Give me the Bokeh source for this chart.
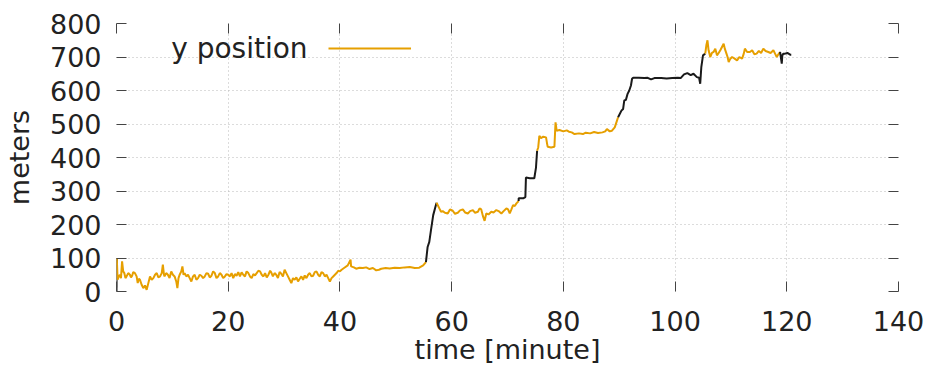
from bokeh.plotting import figure
from bokeh.models import (Range1d, LinearAxis, FixedTicker, Label, Legend, LegendItem,
                          CustomJSTickFormatter)
from bokeh.embed import file_html
from bokeh.resources import INLINE

# ---- data ----
x_ticks = [0, 20, 40, 60, 80, 100, 120, 140]
y_ticks = [0, 100, 200, 300, 400, 500, 600, 700, 800]

# run A: black, run B: orange (0 - 55 min)
time_a = [0.0, 0.05]
pos_a = [0, 100]

time_b = [0.05, 0.2, 0.4, 0.6, 0.8, 1.0, 1.2, 1.4, 1.6, 1.8, 2.1, 2.4, 2.6, 2.8, 3.0, 3.3, 3.6, 3.8, 4.0, 4.2,
          4.5, 4.8, 5.1, 5.4, 5.7, 6.0, 6.3, 6.6, 6.9, 7.2, 7.5, 7.8, 8.1, 8.3, 8.5, 8.6, 8.9, 9.2, 9.5, 9.8,
          10.1, 10.4, 10.7, 10.9, 11.1, 11.3, 11.6, 11.8, 12.0, 12.2, 12.5, 12.8, 13.1, 13.4, 13.7, 14.0, 14.3,
          14.6, 14.9, 15.2, 15.5, 15.8, 16.1, 16.4, 16.7, 17.0, 17.3, 17.6, 17.9, 18.2, 18.5, 18.8, 19.1, 19.4,
          19.7, 20.0, 20.3, 20.6, 20.9, 21.2, 21.5, 21.8, 22.1, 22.4, 22.7, 23.0, 23.3, 23.6, 23.9, 24.2, 24.5,
          24.8, 25.1, 25.4, 25.7, 26.0, 26.3, 26.6, 26.9, 27.2, 27.5, 27.7, 28.0, 28.3, 28.6, 28.9, 29.2, 29.5,
          29.8, 30.1, 30.4, 30.7, 31.0, 31.3, 31.6, 31.9, 32.2, 32.5, 32.8, 33.1, 33.4, 33.7, 34.0, 34.3, 34.6,
          34.9, 35.2, 35.5, 35.8, 36.1, 36.4, 36.7, 37.0, 37.3, 37.6, 37.9, 38.2, 38.5, 38.8, 39.1, 39.4, 39.7,
          40.0, 40.3, 40.8, 41.4, 41.9, 42.0, 42.5, 42.9, 43.5, 44.1, 44.7, 45.3, 45.9, 46.5, 47.0, 47.4, 48.2,
          48.9, 49.8, 50.7, 51.6, 52.5, 53.4, 54.2, 54.9, 55.4]
pos_b = [100, 35, 45, 50, 40, 90, 60, 55, 40, 45, 55, 50, 42, 47, 58, 55, 45, 25, 38, 35,
         20, 10, 18, 5, 25, 45, 35, 40, 50, 55, 42, 45, 55, 80, 50, 45, 55, 50, 40, 60,
         50, 45, 30, 10, 40, 50, 60, 75, 50, 55, 45, 50, 40, 30, 45, 50, 35,
         40, 50, 47, 40, 45, 55, 53, 42, 47, 60, 55, 40, 45, 55, 50, 40, 45,
         52, 50, 45, 55, 40, 52, 47, 58, 45, 57, 50, 45, 60, 55, 45, 40, 52,
         48, 55, 62, 60, 50, 45, 55, 42, 50, 62, 57, 45, 55, 50, 40, 58, 53,
         45, 65, 55, 45, 35, 25, 40, 35, 42, 30, 38, 45, 35, 48, 40, 50, 55,
         45, 47, 58, 60, 50, 45, 58, 55, 45, 50, 40, 30, 40, 45, 50, 55, 62,
         60, 65, 71, 78, 95, 75, 72, 68, 71, 70, 72, 67, 70, 63, 65, 68, 70,
         69, 71, 70, 72, 73, 70, 71, 78, 88]

# run C: black climb to ~260 m
time_c = [55.4, 55.7, 56.0, 56.3, 56.7, 57.1, 57.3]
pos_c = [88, 133, 148, 183, 228, 253, 265]

# run D: orange plateau ~240 m
time_d = [57.3, 57.8, 58.1, 58.4, 58.8, 59.3, 59.7, 60.2, 60.6, 61.1, 61.5, 62.0, 62.4, 62.9, 63.3, 63.8,
          64.2, 64.7, 65.0, 65.3, 65.6, 65.9, 66.2, 66.6, 67.1, 67.5, 68.0, 68.4, 68.9, 69.3, 69.8, 70.1,
          70.4, 70.7, 71.0, 71.3, 71.6, 72.0]
pos_d = [265, 248, 238, 240, 235, 233, 245, 241, 232, 235, 242, 245, 236, 233, 240, 243,
         235, 238, 248, 245, 225, 211, 233, 230, 238, 236, 243, 240, 233, 240, 248, 245,
         233, 245, 258, 255, 263, 270]

# run E: black steps 280 -> 340 -> 420 m
time_e = [72.0, 72.0, 72.8, 73.2, 73.3, 74.0, 74.8, 75.1, 75.3]
pos_e = [270, 278, 278, 282, 340, 338, 338, 370, 420]

# run F: orange plateau ~475 m
time_f = [75.3, 75.5, 75.7, 76.0, 76.4, 76.9, 77.1, 77.2, 77.8, 78.4, 78.6, 78.8, 79.3, 80.0, 80.6, 81.0,
          81.5, 82.0, 82.8, 83.5, 84.0, 84.8, 85.5, 86.2, 87.0, 87.5, 87.8, 88.3, 88.7, 89.2, 89.6, 89.8]
pos_f = [420, 430, 465, 458, 462, 460, 440, 432, 430, 432, 505, 480, 482, 478, 481, 477,
         475, 470, 472, 470, 474, 472, 476, 473, 475, 478, 485, 478, 480, 490, 510, 520]

# run G: black climb and plateau ~640 m
time_g = [89.8, 90.4, 90.7, 90.9, 91.2, 91.5, 91.8, 92.1, 92.3, 92.5, 93.5, 94.5, 95.1, 95.7, 96.3, 97.5,
          98.5, 99.5, 100.5, 101.0, 101.6, 102.2, 102.8, 103.3, 103.9, 104.3, 104.5, 104.7, 105.0, 105.4]
pos_g = [520, 540, 545, 570, 572, 590, 600, 615, 635, 638, 638, 637, 638, 633, 637, 637,
         636, 637, 638, 637, 648, 652, 646, 650, 640, 638, 620, 670, 705, 710]

# run H: orange plateau ~710 m
time_h = [105.4, 105.6, 105.8, 106.0, 106.3, 106.6, 106.9, 107.2, 107.5, 107.8, 108.1, 108.4, 108.7,
          108.9, 109.2, 109.4, 109.6, 109.9, 110.2, 110.6, 111.1, 111.5, 112.0, 112.3, 112.5, 112.9,
          113.4, 113.8, 114.2, 114.6, 115.0, 115.4, 115.8, 116.2, 116.7, 117.1, 117.6, 117.9, 118.2,
          118.5, 118.8]
pos_h = [710, 735, 750, 720, 700, 712, 715, 725, 705, 712, 720, 730, 740,
         725, 710, 700, 685, 695, 700, 696, 690, 700, 695, 710, 725, 715,
         715, 720, 708, 710, 718, 712, 725, 718, 715, 712, 720, 710, 700,
         708, 715]

# run I: black tail
time_i = [118.8, 119.1, 119.2, 119.4, 119.7, 120.1, 120.6, 120.8]
pos_i = [715, 680, 705, 710, 710, 712, 707, 707]

runs = [
    (time_a, pos_a, "black"),
    (time_b, pos_b, "orange"),
    (time_c, pos_c, "black"),
    (time_d, pos_d, "orange"),
    (time_e, pos_e, "black"),
    (time_f, pos_f, "orange"),
    (time_g, pos_g, "black"),
    (time_h, pos_h, "orange"),
    (time_i, pos_i, "black"),
]
colors = {"orange": "#E69F00", "black": "#1a1a1a"}

FONT = "DejaVu Sans"
TXT = "#222222"
TICK = "#444444"

p = figure(frame_width=782, frame_height=268, output_backend="svg", toolbar_location=None,
           x_range=Range1d(0, 140), y_range=Range1d(0, 800),
           min_border_left=115, min_border_right=34, min_border_top=23, min_border_bottom=76)
p.outline_line_color = None
p.background_fill_color = "white"

orange_r = None
for t, y, c in runs:
    r = p.line(t, y, line_color=colors[c], line_width=2.0)
    if c == "orange" and orange_r is None:
        orange_r = r

# axes
for ax in (p.xaxis[0], p.yaxis[0]):
    ax.axis_line_color = None
    ax.major_tick_in = 10
    ax.major_tick_out = 0
    ax.major_tick_line_color = TICK
    ax.minor_tick_line_color = None
    ax.major_label_text_font = FONT
    ax.major_label_text_font_size = "27px"
    ax.major_label_text_color = TXT
    ax.axis_label_text_font = FONT
    ax.axis_label_text_font_size = "27px"
    ax.axis_label_text_font_style = "normal"
    ax.axis_label_text_color = TXT

p.xaxis[0].ticker = FixedTicker(ticks=x_ticks)
p.yaxis[0].ticker = FixedTicker(ticks=y_ticks)
p.xaxis[0].axis_label = "time [minute]"
p.yaxis[0].axis_label = "meters"
p.xaxis[0].major_label_standoff = 19
p.xaxis[0].axis_label_standoff = 0
p.yaxis[0].major_label_standoff = 15
p.yaxis[0].axis_label_standoff = 12

# mirrored tick marks (top / right), no labels
blank = CustomJSTickFormatter(code="return '';")
top = LinearAxis(ticker=FixedTicker(ticks=x_ticks), formatter=blank, axis_line_color=None,
                 major_tick_in=10, major_tick_out=0, major_tick_line_color=TICK,
                 minor_tick_line_color=None, major_label_text_font_size="1px", major_label_standoff=0)
right = LinearAxis(ticker=FixedTicker(ticks=y_ticks), formatter=blank, axis_line_color=None,
                   major_tick_in=10, major_tick_out=0, major_tick_line_color=TICK,
                   minor_tick_line_color=None, major_label_text_font_size="1px", major_label_standoff=0)
p.add_layout(top, "above")
p.add_layout(right, "right")

# grid
p.xgrid.ticker = FixedTicker(ticks=x_ticks)
p.ygrid.ticker = FixedTicker(ticks=y_ticks)
for g in (p.xgrid[0], p.ygrid[0]):
    g.grid_line_color = "#b8b8b8"
    g.grid_line_dash = "1 3"
    g.grid_line_width = 1

# legend: text then sample line (gnuplot style)
p.add_layout(Label(x=9.8, y=725, text="y position", text_font=FONT, text_font_size="28px",
                   text_color=TXT, text_baseline="middle"))
leg = Legend(items=[LegendItem(label="", renderers=[orange_r])], location=(212, 233),
             glyph_width=83, glyph_height=20, label_width=0, label_height=20, label_standoff=0,
             padding=0, margin=0, spacing=0, border_line_color=None, background_fill_alpha=0)
p.add_layout(leg, "center")

open("out.html", "w").write(file_html(p, INLINE))
